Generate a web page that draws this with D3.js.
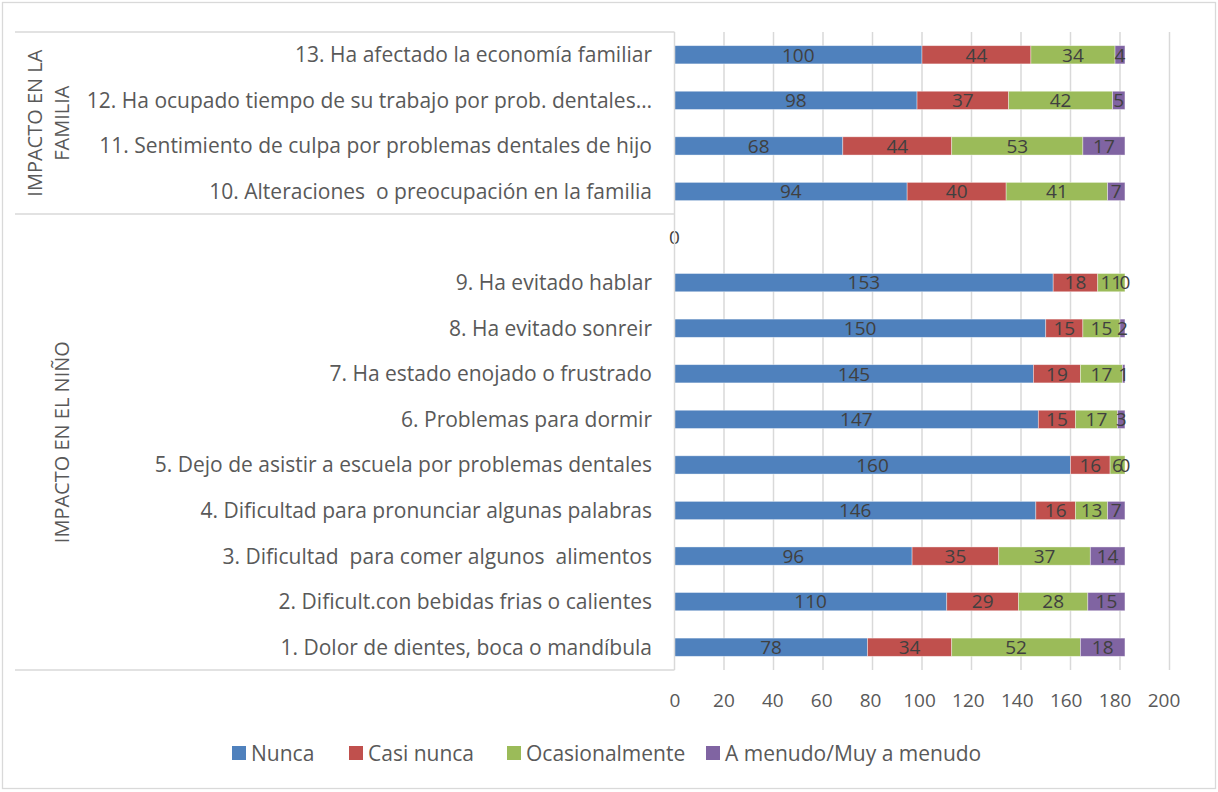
<!DOCTYPE html>
<html>
<head>
<meta charset="utf-8">
<script src="https://cdn.jsdelivr.net/npm/d3@7"></script>
<style>
  body { margin: 0; background: #fff; }
  text { font-family: "Open Sans", Lato, sans-serif; }
</style>
</head>
<body>
<div id="chart"></div>
<script>
// categories, bottom to top ("" = empty separator row)
const categories = [
    "1. Dolor de dientes, boca o mandíbula",
    "2. Dificult.con bebidas frias o calientes",
    "3. Dificultad  para comer algunos  alimentos",
    "4. Dificultad para pronunciar algunas palabras",
    "5. Dejo de asistir a escuela por problemas dentales",
    "6. Problemas para dormir",
    "7. Ha estado enojado o frustrado",
    "8. Ha evitado sonreir",
    "9. Ha evitado hablar",
    "",
    "10. Alteraciones  o preocupación en la familia",
    "11. Sentimiento de culpa por problemas dentales de hijo",
    "12. Ha ocupado tiempo de su trabajo por prob. dentales…",
    "13. Ha afectado la economía familiar"
];

const seriesNames = ["Nunca", "Casi nunca", "Ocasionalmente", "A menudo/Muy a menudo"];
const nunca      = [78, 110, 96, 146, 160, 147, 145, 150, 153, 0, 94, 68, 98, 100];
const casiNunca  = [34, 29, 35, 16, 16, 15, 19, 15, 18, null, 40, 44, 37, 44];
const ocasional  = [52, 28, 37, 13, 6, 17, 17, 15, 11, null, 41, 53, 42, 34];
const aMenudo    = [18, 15, 14, 7, 0, 3, 1, 2, 0, null, 7, 17, 5, 4];
const colors = ["#4F81BD", "#C0504D", "#9BBB59", "#8064A2"];

// outer category groups (index ranges into categories)
const groupLabels = [["IMPACTO EN EL NIÑO"], ["IMPACTO EN LA", "FAMILIA"]];
const groupFirst = [0, 10];
const groupLast  = [9, 13];

const xTicks = [0, 20, 40, 60, 80, 100, 120, 140, 160, 180, 200];

const W = 1218, H = 792;
const svg = d3.select("#chart").append("svg")
    .attr("width", W).attr("height", H);

// chart border
svg.append("rect")
    .attr("x", 2.5).attr("y", 2.5)
    .attr("width", W - 5).attr("height", H - 6)
    .attr("fill", "#fff").attr("stroke", "#d9d9d9").attr("stroke-width", 1.3);

const x = d3.scaleLinear().domain([0, 200]).range([674.5, 1169.5]);
// tick labels sit a little left of their gridlines in the original
const xLabel = d3.scaleLinear().domain([0, 200]).range([675, 1164]);
const y = d3.scaleBand()
    .domain(d3.range(categories.length).reverse())
    .range([32, 670])
    .paddingInner(0.6).paddingOuter(0.3);

const grey = "#d9d9d9";
const labelCol = "#595959";

// gridlines
svg.append("g").selectAll("line")
    .data(xTicks.slice(1))
    .join("line")
    .attr("x1", d => x(d)).attr("x2", d => x(d))
    .attr("y1", 32).attr("y2", 670)
    .attr("stroke", grey).attr("stroke-width", 1.5);

// stacked series
const rows = categories.map((c, i) => [nunca[i], casiNunca[i], ocasional[i], aMenudo[i]]);
const segs = [];
rows.forEach((vals, i) => {
    let acc = 0;
    vals.forEach((v, s) => {
        if (v === null) return;
        segs.push({ row: i, s: s, v: v, x0: acc, x1: acc + v });
        acc += v;
    });
});

svg.append("g").selectAll("rect")
    .data(segs.filter(d => d.v > 0))
    .join("rect")
    .attr("x", d => x(d.x0))
    .attr("y", d => y(d.row))
    .attr("width", d => x(d.x1) - x(d.x0))
    .attr("height", y.bandwidth())
    .attr("fill", d => colors[d.s])
    .attr("stroke", "#fff").attr("stroke-opacity", 0.5).attr("stroke-width", 0.75);

// data labels
svg.append("g").selectAll("text")
    .data(segs)
    .join("text")
    .attr("x", d => (x(d.x0) + x(d.x1)) / 2)
    .attr("y", d => y(d.row) + y.bandwidth() / 2)
    .attr("dy", "0.36em")
    .attr("text-anchor", "middle")
    .attr("font-size", 19)
    .attr("fill", "#404040")
    .text(d => d.v);

// category axis line
svg.append("line")
    .attr("x1", 674.5).attr("x2", 674.5)
    .attr("y1", 32).attr("y2", 670)
    .attr("stroke", grey).attr("stroke-width", 1.5);

// category labels
svg.append("g").selectAll("text")
    .data(categories)
    .join("text")
    .attr("x", 652)
    .attr("y", (d, i) => y(i) + y.bandwidth() / 2)
    .attr("dy", "0.36em")
    .attr("text-anchor", "end")
    .attr("font-size", 21)
    .attr("fill", labelCol)
    .style("white-space", "pre")
    .text(d => d);

// group separators and labels
const step = y.step();
const groupTop = groupLast.map(i => y(i) - y.paddingInner() * step / 2);
const groupBottom = groupFirst.map(i => y(i) + y.bandwidth() + y.paddingInner() * step / 2);
const sepY = [...new Set(groupTop.concat(groupBottom).map(v => Math.round(v)))];
svg.append("g").selectAll("line")
    .data(sepY)
    .join("line")
    .attr("x1", 15).attr("x2", 674.5)
    .attr("y1", d => d).attr("y2", d => d)
    .attr("stroke", grey).attr("stroke-width", 1.5);

groupLabels.forEach((lines, g) => {
    const cy = (groupTop[g] + groupBottom[g]) / 2;
    const t = svg.append("text")
        .attr("transform", `translate(${48},${cy}) rotate(-90)`)
        .attr("text-anchor", "middle")
        .attr("font-size", 20)
        .attr("fill", labelCol);
    const lh = 27;
    lines.forEach((ln, k) => {
        t.append("tspan")
            .attr("x", 0)
            .attr("y", (k - (lines.length - 1) / 2) * lh + (lines.length === 1 ? lh / 2 : 0))
            .attr("dy", "0.36em")
            .text(ln);
    });
});

// value axis labels
svg.append("g").selectAll("text")
    .data(xTicks)
    .join("text")
    .attr("x", d => xLabel(d))
    .attr("y", 700)
    .attr("dy", "0.36em")
    .attr("text-anchor", "middle")
    .attr("font-size", 19)
    .attr("fill", labelCol)
    .text(d => d);

// legend
const legendX = [232, 349, 507, 706];
const legend = svg.append("g").selectAll("g")
    .data(seriesNames)
    .join("g")
    .attr("transform", (d, i) => `translate(${legendX[i]},753)`);
legend.append("rect")
    .attr("x", 0).attr("y", -7)
    .attr("width", 14).attr("height", 14)
    .attr("fill", (d, i) => colors[i]);
legend.append("text")
    .attr("x", 19).attr("dy", "0.36em")
    .attr("font-size", 21)
    .attr("fill", labelCol)
    .text(d => d);
</script>
</body>
</html>
